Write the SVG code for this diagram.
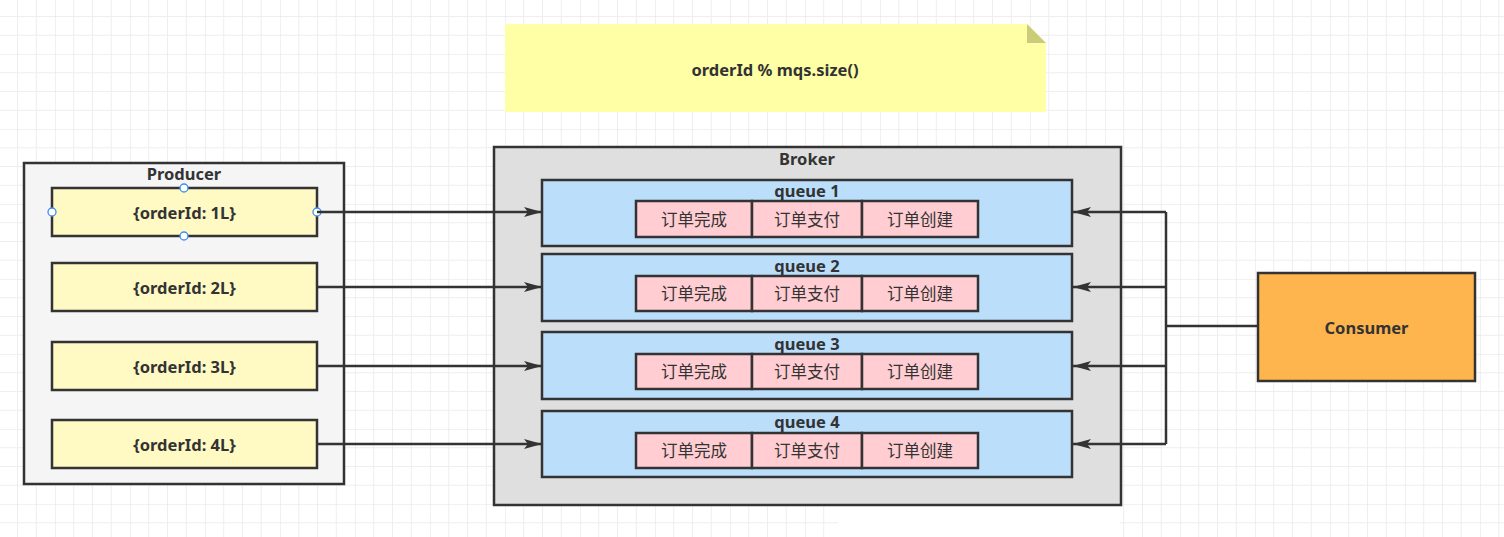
<svg xmlns="http://www.w3.org/2000/svg" width="1504" height="537" viewBox="0 0 1504 537">
<defs>
<pattern id="grid" patternUnits="userSpaceOnUse" x="-20" y="-21" width="75" height="75">
<path d="M18.75 0V75M37.5 0V75M56.25 0V75M0 18.75H75M0 37.5H75M0 56.25H75" stroke="#eeeeee" stroke-width="1" fill="none"/>
<path d="M0 0V75M0 0H75" stroke="#e4e4e4" stroke-width="1" fill="none"/>
</pattern>
<marker id="arr" markerUnits="userSpaceOnUse" markerWidth="20" markerHeight="14" viewBox="0 0 20 14" refX="19" refY="7" orient="auto">
<path d="M1,2 L19,7 L1,12 L5,7 Z" fill="#333"/>
</marker>
<style>
text{font-family:"Noto Sans","Noto Sans CJK SC",sans-serif;fill:#333;text-anchor:middle;dominant-baseline:central}
.b{font-weight:bold;font-size:16.5px}
.c{font-size:16.5px}
.box{stroke:#333;stroke-width:2.5}
.q{fill:#bbdefb;stroke:#333;stroke-width:2.5}
.cell{fill:#ffcdd2;stroke:#333;stroke-width:2.5}
.ord{fill:#fff9c4;stroke:#333;stroke-width:2.5}
.ln{stroke:#333;stroke-width:2.5;fill:none}
.h{fill:#fff;stroke:#3b8ef0;stroke-width:1.3}
</style>
</defs>
<rect width="1504" height="537" fill="#fff"/>
<rect width="1504" height="537" fill="url(#grid)"/>
<rect x="838" y="506" width="282" height="31" fill="#fff"/>

<g id="note">
<path d="M505,24 H1027 L1046,43 V112 H505 Z" fill="#ffffa6"/>
<path d="M1027,24 L1046,43 H1027 Z" fill="#cccc78"/>
<text class="b" x="775" y="69">orderId % mqs.size()</text>
</g>

<g id="producer">
<rect class="box" x="24" y="163" width="320" height="321" fill="#f5f5f5"/>
<text class="b" x="184" y="173">Producer</text>
</g>
<g id="order1">
<rect class="ord" x="52" y="188" width="265" height="48"/>
<text class="b" x="184.5" y="212">{orderId: 1L}</text>
<circle class="h" cx="184" cy="188" r="4"/>
<circle class="h" cx="52" cy="212" r="4"/>
<circle class="h" cx="317" cy="212" r="4"/>
<circle class="h" cx="184" cy="236" r="4"/>
</g>
<g id="order2">
<rect class="ord" x="52" y="263" width="265" height="48"/>
<text class="b" x="184.5" y="287">{orderId: 2L}</text>
</g>
<g id="order3">
<rect class="ord" x="52" y="342" width="265" height="48"/>
<text class="b" x="184.5" y="366">{orderId: 3L}</text>
</g>
<g id="order4">
<rect class="ord" x="52" y="420" width="265" height="48"/>
<text class="b" x="184.5" y="444">{orderId: 4L}</text>
</g>

<g id="broker">
<rect class="box" x="494" y="147" width="627" height="358" fill="#dfdfdf"/>
<text class="b" x="807" y="158">Broker</text>
</g>
<g id="queue1">
<rect class="q" x="542" y="180" width="530" height="66"/>
<text class="b" x="807" y="190">queue 1</text>
<rect class="cell" x="636" y="201" width="116" height="36"/>
<rect class="cell" x="752" y="201" width="110" height="36"/>
<rect class="cell" x="862" y="201" width="116" height="36"/>
<text class="c" x="694" y="219">订单完成</text>
<text class="c" x="807" y="219">订单支付</text>
<text class="c" x="920" y="219">订单创建</text>
</g>
<g id="queue2">
<rect class="q" x="542" y="254" width="530" height="67"/>
<text class="b" x="807" y="265">queue 2</text>
<rect class="cell" x="636" y="276" width="116" height="35"/>
<rect class="cell" x="752" y="276" width="110" height="35"/>
<rect class="cell" x="862" y="276" width="116" height="35"/>
<text class="c" x="694" y="293.5">订单完成</text>
<text class="c" x="807" y="293.5">订单支付</text>
<text class="c" x="920" y="293.5">订单创建</text>
</g>
<g id="queue3">
<rect class="q" x="542" y="332" width="530" height="67"/>
<text class="b" x="807" y="343">queue 3</text>
<rect class="cell" x="636" y="354" width="116" height="35"/>
<rect class="cell" x="752" y="354" width="110" height="35"/>
<rect class="cell" x="862" y="354" width="116" height="35"/>
<text class="c" x="694" y="371.5">订单完成</text>
<text class="c" x="807" y="371.5">订单支付</text>
<text class="c" x="920" y="371.5">订单创建</text>
</g>
<g id="queue4">
<rect class="q" x="542" y="411" width="530" height="66"/>
<text class="b" x="807" y="421">queue 4</text>
<rect class="cell" x="636" y="433" width="116" height="35"/>
<rect class="cell" x="752" y="433" width="110" height="35"/>
<rect class="cell" x="862" y="433" width="116" height="35"/>
<text class="c" x="694" y="450.5">订单完成</text>
<text class="c" x="807" y="450.5">订单支付</text>
<text class="c" x="920" y="450.5">订单创建</text>
</g>

<g id="consumer">
<rect class="box" x="1258" y="273" width="217" height="108" fill="#ffb54d"/>
<text class="b" x="1366.5" y="327">Consumer</text>
</g>

<g id="connectors">
<path class="ln" d="M317,212 H542" marker-end="url(#arr)"/>
<path class="ln" d="M317,287 H542" marker-end="url(#arr)"/>
<path class="ln" d="M317,366 H542" marker-end="url(#arr)"/>
<path class="ln" d="M317,444 H542" marker-end="url(#arr)"/>
<path class="ln" d="M1258,326 H1166"/>
<path class="ln" d="M1166,212 V444"/>
<path class="ln" d="M1166,212 H1073" marker-end="url(#arr)"/>
<path class="ln" d="M1166,287 H1073" marker-end="url(#arr)"/>
<path class="ln" d="M1166,366 H1073" marker-end="url(#arr)"/>
<path class="ln" d="M1166,444 H1073" marker-end="url(#arr)"/>
</g>
</svg>
